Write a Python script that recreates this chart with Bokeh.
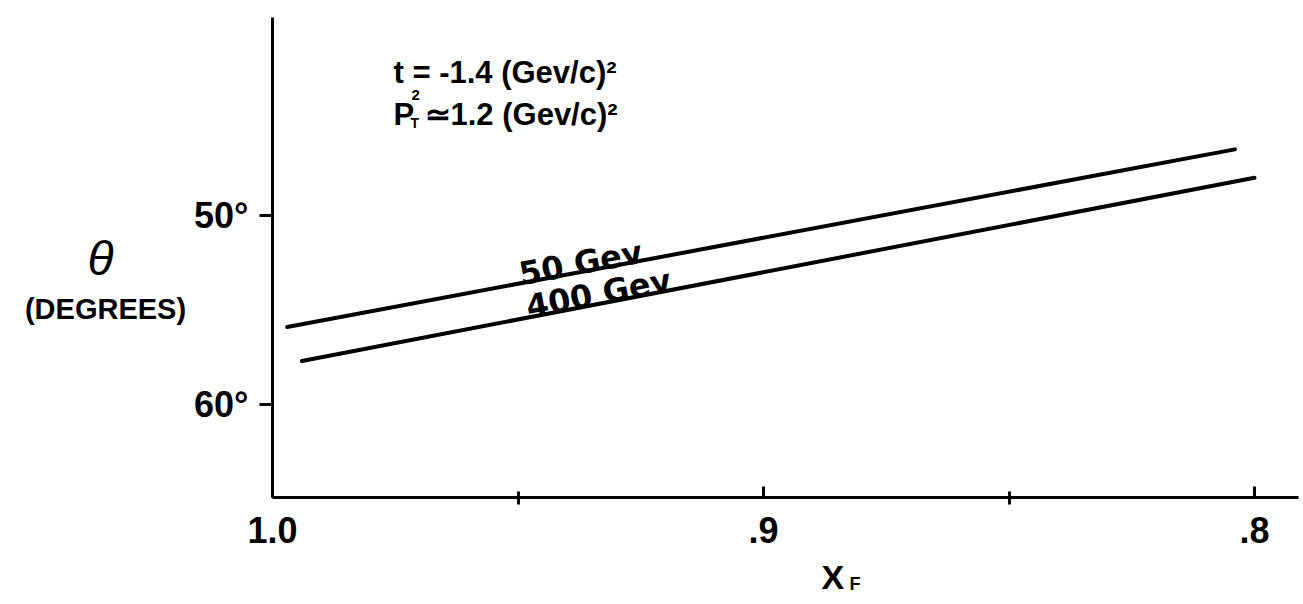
import math
from bokeh.plotting import figure
from bokeh.layouts import row, column
from bokeh.models import Range1d, FixedTicker, Label
from bokeh.embed import file_html
from bokeh.resources import INLINE

# ---- data ----
x_50gev = [0.997, 0.804]
y_50gev = [55.9, 46.5]
x_400gev = [0.994, 0.800]
y_400gev = [57.7, 48.0]

x_major = [1.0, 0.9, 0.8]
x_major_labels = ["1.0", ".9", ".8"]
x_minor = [0.95, 0.85]
y_major = [50, 60]
y_major_labels = ["50°", "60°"]

# ---- layout (page pixels) ----
TOTAL_W, TOTAL_H = 1300, 602
LEFT_W = 190            # panel holding the y title
TOP_H = 555             # height of the chart row
FRAME_L, FRAME_R, FRAME_T, FRAME_B = 272, 1298, 17, 497

# calibration of the main frame (page pixels -> data)
PX_PER_X = 4910.0   # pixels per unit of x_F
PX_PER_DEG = 18.9   # pixels per degree
def dx(px):
    return 1.0 - (px - 272) / PX_PER_X
def dy(py):
    return 50 + (py - 215) / PX_PER_DEG

main_w = TOTAL_W - LEFT_W
b_left = FRAME_L - LEFT_W
b_right = TOTAL_W - FRAME_R
b_top = FRAME_T
b_bottom = TOP_H - FRAME_B

p = figure(width=main_w, height=TOP_H,
           x_range=Range1d(1.0, dx(FRAME_R)),
           y_range=Range1d(dy(FRAME_B), dy(FRAME_T)),
           output_backend="svg", toolbar_location=None, title_location=None,
           min_border_left=b_left, min_border_top=b_top,
           min_border_bottom=b_bottom, min_border_right=b_right)
p.outline_line_color = None
p.xgrid.visible = False
p.ygrid.visible = False
p.background_fill_color = "white"
p.border_fill_color = "white"

TICK_FONT = "Liberation Sans"

# x axis
xa = p.xaxis[0]
xa.ticker = FixedTicker(ticks=x_major, minor_ticks=x_minor)
xa.major_label_overrides = {v: s for v, s in zip(x_major, x_major_labels)}
xa.axis_line_width = 3
xa.axis_line_color = "black"
xa.major_tick_in = 11
xa.major_tick_out = 0
xa.major_tick_line_width = 3
xa.major_tick_line_color = "black"
xa.minor_tick_in = 6
xa.minor_tick_out = 7
xa.minor_tick_line_width = 3
xa.minor_tick_line_color = "black"
xa.major_label_text_font = TICK_FONT
xa.major_label_text_font_style = "bold"
xa.major_label_text_font_size = "36px"
xa.major_label_text_color = "black"
xa.major_label_standoff = 12

# y axis
ya = p.yaxis[0]
ya.ticker = FixedTicker(ticks=y_major, minor_ticks=[])
ya.major_label_overrides = {v: s for v, s in zip(y_major, y_major_labels)}
ya.axis_line_width = 3
ya.axis_line_color = "black"
ya.major_tick_in = 0
ya.major_tick_out = 13
ya.major_tick_line_width = 3
ya.major_tick_line_color = "black"
ya.minor_tick_in = 0
ya.minor_tick_out = 0
ya.major_label_text_font = TICK_FONT
ya.major_label_text_font_style = "bold"
ya.major_label_text_font_size = "36px"
ya.major_label_text_color = "black"
ya.major_label_standoff = 11

# curves
p.line(x_50gev, y_50gev, line_width=4, line_color="black", line_cap="round")
p.line(x_400gev, y_400gev, line_width=4, line_color="black", line_cap="round")

def lab(fig, text, x, y, size, font="Liberation Sans", style="bold",
        align="left", baseline="alphabetic", angle=0.0):
    fig.add_layout(Label(x=x, y=y, text=text, text_font=font,
                         text_font_size=f"{size}px", text_font_style=style,
                         text_align=align, text_baseline=baseline,
                         angle=angle, text_color="black"))

def screen_angle(xs, ys):
    return math.atan2((ys[0] - ys[1]) * PX_PER_DEG, (xs[0] - xs[1]) * PX_PER_X)

# curve labels
lab(p, "50 Gev", dx(519), dy(274), 32, font="DejaVu Sans",
    angle=screen_angle(x_50gev, y_50gev))
lab(p, "400 Gev", dx(526), dy(307), 32, font="DejaVu Sans",
    angle=screen_angle(x_400gev, y_400gev))

# annotation
lab(p, "t = -1.4 (Gev/c)²", dx(393), dy(72), 31)
lab(p, "P", dx(393), dy(114), 31)
lab(p, "2", dx(411), dy(94), 15)
lab(p, "T", dx(410), dy(122), 14)
lab(p, "≃1.2 (Gev/c)²", dx(424), dy(114), 31)

def blank(w, h, x_range, y_range, bl=0, br=0, bt=0, bb=0):
    f = figure(width=w, height=h, x_range=x_range, y_range=y_range,
               x_axis_type=None, y_axis_type=None,
               output_backend="svg", toolbar_location=None, title_location=None,
               min_border_left=bl, min_border_right=br,
               min_border_top=bt, min_border_bottom=bb)
    f.outline_line_color = None
    f.xgrid.visible = False
    f.ygrid.visible = False
    f.background_fill_color = "white"
    f.border_fill_color = "white"
    return f

# left panel: shares the y scale of the chart, x in pixels
left = blank(LEFT_W, TOP_H, Range1d(0, LEFT_W), p.y_range, bt=b_top, bb=b_bottom)
lab(left, "θ", 100, dy(258), 48, style="italic", align="center", baseline="middle")
lab(left, "(DEGREES)", 105, dy(308), 29, align="center", baseline="middle")

# bottom panel: shares the x scale of the chart, y in pixels from its top
BOT_H = TOTAL_H - TOP_H
bottom = blank(main_w, BOT_H, p.x_range, Range1d(BOT_H, 0), bl=b_left, br=b_right)
SHIFT = 13  # measured offset of this strip's frame
lab(bottom, "X", dx(821), 589 - TOP_H - SHIFT, 34)
lab(bottom, "F", dx(849), 596 - TOP_H - SHIFT, 18)

layout = row(left, column(p, bottom, spacing=0), spacing=0)
open("out.html", "w").write(file_html(layout, INLINE))
